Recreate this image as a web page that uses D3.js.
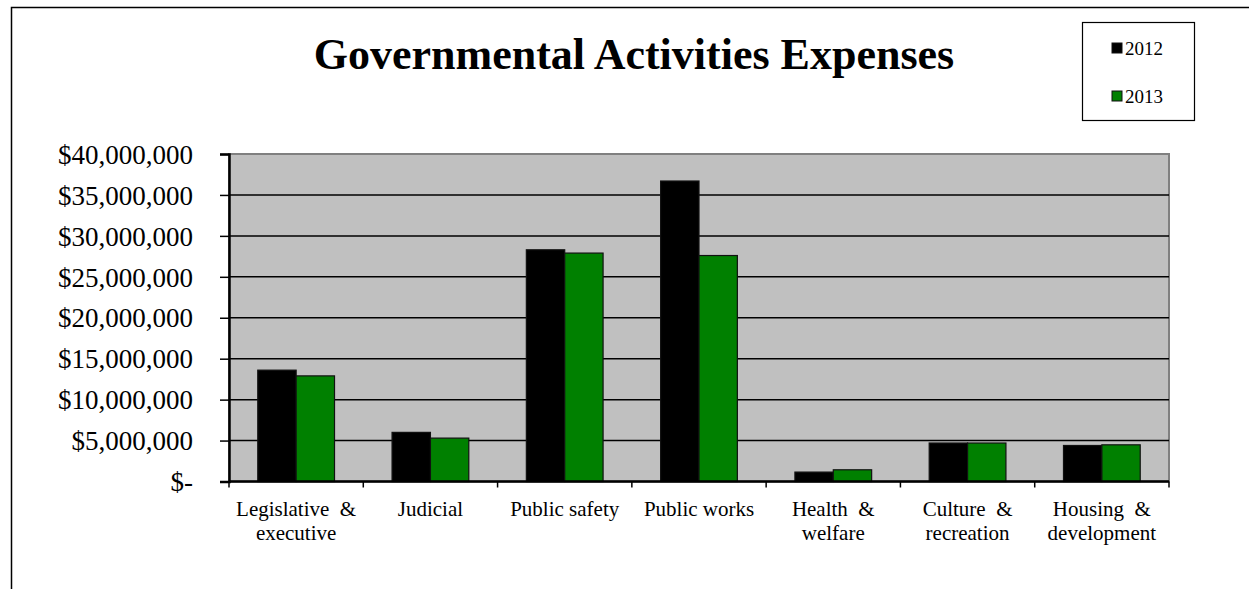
<html lang='eng'>
    <head>
        <script src="https://d3js.org/d3.v7.min.js" charset="utf-8"></script>
        <style>
        body {
          margin: 0;
          background: #ffffff;
        }
        text {
          font-family: 'Liberation Serif', 'Times New Roman', serif;
        }
        </style>
    </head>
    <body>
        <script>
            // chart values
            var categories = ["Legislative & executive", "Judicial", "Public safety", "Public works",
                              "Health & welfare", "Culture & recreation", "Housing & development"]
            var categoryLines = [["Legislative  &", "executive"], ["Judicial"], ["Public safety"], ["Public works"],
                                 ["Health  &", "welfare"], ["Culture  &", "recreation"], ["Housing  &", "development"]]
            var seriesNames = ["2012", "2013"]
            var values2012 = [13600000, 6000000, 28300000, 36700000, 1150000, 4700000, 4400000]
            var values2013 = [12900000, 5300000, 27900000, 27600000, 1430000, 4700000, 4480000]
            var yTicks = [0, 5000000, 10000000, 15000000, 20000000, 25000000, 30000000, 35000000, 40000000]

            var colors = {"2012": "#000000", "2013": "#008000"}

            var width = 1249
            var height = 589

            var svg = d3.select("body")
                        .append("svg")
                        .attr("width", width)
                        .attr("height", height)

            // outer chart border (only top and left fall inside the window)
            svg.append("rect")
               .attr("x", 11.5)
               .attr("y", 7.5)
               .attr("width", 1400)
               .attr("height", 800)
               .attr("fill", "none")
               .attr("stroke", "#000")
               .attr("stroke-width", 1.5)

            // plot area
            var plot = {left: 229, right: 1169, top: 154, bottom: 481.5}

            var x = d3.scaleBand()
                .domain(categories)
                .range([plot.left, plot.right])
                .padding(0)

            var xSeries = d3.scaleBand()
                .domain(seriesNames)
                .range([0, x.bandwidth()])
                .paddingInner(0)
                .paddingOuter(0.75)

            var y = d3.scaleLinear()
                .domain([0, 40000000])
                .range([plot.bottom, plot.top])

            svg.append("rect")
               .attr("x", plot.left)
               .attr("y", plot.top)
               .attr("width", plot.right - plot.left)
               .attr("height", plot.bottom - plot.top)
               .attr("fill", "#c0c0c0")
               .attr("stroke", "#808080")
               .attr("stroke-width", 2)

            // gridlines
            svg.selectAll(".grid")
               .data(yTicks.slice(1, -1))
               .enter().append("line")
               .attr("class", "grid")
               .attr("x1", plot.left)
               .attr("x2", plot.right)
               .attr("y1", function(d) { return y(d) })
               .attr("y2", function(d) { return y(d) })
               .attr("stroke", "#000")
               .attr("stroke-width", 1.5)

            // bars
            var rows = categories.map(function(c, i) {
              return {category: c, values: [{series: "2012", value: values2012[i]}, {series: "2013", value: values2013[i]}]}
            })

            var groups = svg.selectAll(".group")
               .data(rows)
               .enter().append("g")
               .attr("class", "group")
               .attr("transform", function(d) { return "translate(" + x(d.category) + ",0)" })

            groups.selectAll("rect")
               .data(function(d) { return d.values })
               .enter().append("rect")
               .attr("x", function(d) { return xSeries(d.series) })
               .attr("width", xSeries.bandwidth())
               .attr("y", function(d) { return y(d.value) })
               .attr("height", function(d) { return plot.bottom - y(d.value) })
               .attr("fill", function(d) { return colors[d.series] })
               .attr("stroke", "#111")
               .attr("stroke-width", 1.2)

            // y axis
            var money = d3.format("$,")
            var yAxis = d3.axisLeft(y)
                .tickValues(yTicks)
                .tickSize(9)
                .tickPadding(27)
                .tickFormat(function(d) { return d === 0 ? "$-" : money(d) })

            var yg = svg.append("g")
               .attr("transform", "translate(" + plot.left + ",0)")
               .call(yAxis)
            yg.select(".domain").attr("stroke", "#000").attr("stroke-width", 2.5)
            yg.selectAll(".tick line").attr("stroke", "#000").attr("stroke-width", 1.5)
            yg.selectAll(".tick text")
              .attr("font-family", "'Liberation Serif', serif")
              .attr("font-size", "27px")
              .attr("dy", "0.34em")
              .attr("fill", "#000")

            // x axis with ticks at category boundaries
            svg.append("line")
               .attr("x1", plot.left)
               .attr("x2", plot.right)
               .attr("y1", plot.bottom)
               .attr("y2", plot.bottom)
               .attr("stroke", "#000")
               .attr("stroke-width", 2.5)

            var bounds = categories.map(function(c) { return x(c) }).concat([plot.right])
            svg.selectAll(".xtick")
               .data(bounds)
               .enter().append("line")
               .attr("class", "xtick")
               .attr("x1", function(d) { return d })
               .attr("x2", function(d) { return d })
               .attr("y1", plot.bottom)
               .attr("y2", plot.bottom + 6)
               .attr("stroke", "#000")
               .attr("stroke-width", 1.5)

            svg.selectAll(".xlabel")
               .data(categories)
               .enter().append("text")
               .attr("class", "xlabel")
               .attr("text-anchor", "middle")
               .attr("font-size", "21px")
               .attr("fill", "#000")
               .attr("y", 516)
               .style("white-space", "pre")
               .each(function(d, i) {
                 var t = d3.select(this)
                 categoryLines[i].forEach(function(line, j) {
                   t.append("tspan")
                    .attr("x", x(d) + x.bandwidth() / 2)
                    .attr("dy", j === 0 ? 0 : 24)
                    .text(line)
                 })
               })

            // title
            svg.append("text")
               .attr("x", 634)
               .attr("y", 69)
               .attr("text-anchor", "middle")
               .attr("font-size", "44px")
               .attr("font-weight", "bold")
               .attr("fill", "#000")
               .text("Governmental Activities Expenses")

            // legend
            var legend = svg.append("g")
            legend.append("rect")
               .attr("x", 1082.5)
               .attr("y", 22.5)
               .attr("width", 112)
               .attr("height", 98)
               .attr("fill", "#fff")
               .attr("stroke", "#000")
               .attr("stroke-width", 1.2)

            var items = legend.selectAll(".item")
               .data(seriesNames)
               .enter().append("g")
               .attr("class", "item")
               .attr("transform", function(d, i) { return "translate(1112," + (43 + i * 48) + ")" })

            items.append("rect")
               .attr("width", 10)
               .attr("height", 10)
               .attr("fill", function(d) { return colors[d] })
               .attr("stroke", "#111")
               .attr("stroke-width", 1)

            items.append("text")
               .attr("x", 13)
               .attr("y", 12)
               .attr("font-size", "19px")
               .attr("fill", "#000")
               .text(function(d) { return d })
        </script>
    </body>
</html>
